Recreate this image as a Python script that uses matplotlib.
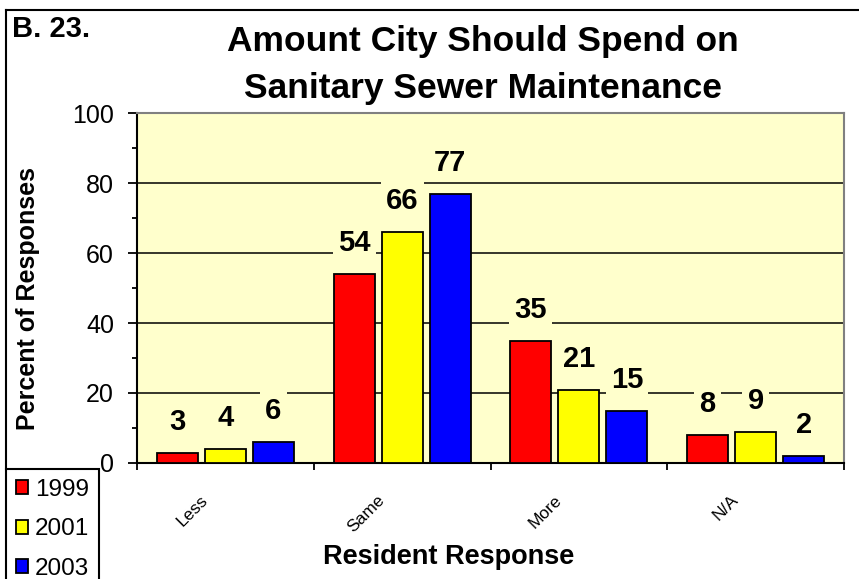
import matplotlib
matplotlib.use("Agg")
import matplotlib.pyplot as plt
import matplotlib.transforms as mtransforms
from matplotlib.lines import Line2D
import numpy as np

plt.rcParams["font.family"] = ["Liberation Sans", "DejaVu Sans"]

categories = ["Less", "Same", "More", "N/A"]
years = ["1999", "2001", "2003"]
values_1999 = [3, 54, 35, 8]
values_2001 = [4, 66, 21, 9]
values_2003 = [6, 77, 15, 2]
colors = ["#FF0000", "#FFFF00", "#0000FF"]
bg = "#FFFFCC"

W, H = 859, 579
fig = plt.figure(figsize=(W / 100, H / 100), dpi=100)

# plot area in pixel coords
left, right, top, bottom = 137, 844, 113, 463
ax = fig.add_axes([left / W, 1 - bottom / H, (right - left) / W, (bottom - top) / H])
ax.set_facecolor(bg)

x = np.arange(len(categories))
width = 0.232
step = 0.272
series = [values_1999, values_2001, values_2003]
bars = []
for i, (vals, col, yr) in enumerate(zip(series, colors, years)):
    b = ax.bar(x + (i - 1) * step, vals, width, color=col, edgecolor="black",
               linewidth=1.3, label=yr, zorder=3)
    bars.append(b)
    for xi, v in zip(x + (i - 1) * step, vals):
        ax.annotate(str(v), (xi, v), xytext=(0, 22.3), textcoords="offset points",
                    ha="center", va="center", fontsize=21, fontweight="bold",
                    zorder=4,
                    bbox=dict(boxstyle="square,pad=0.18", facecolor=bg,
                              edgecolor="none"))

ax.set_xlim(-0.5, len(categories) - 0.5)
ax.set_ylim(0, 100)

# y axis
ax.set_yticks(np.arange(0, 101, 20))
ax.set_yticks(np.arange(10, 100, 20), minor=True)
ax.tick_params(axis="y", which="major", direction="out", length=6.5, width=1.3,
               labelsize=18, pad=10)
ax.tick_params(axis="y", which="minor", direction="out", length=3.5, width=1.3)
ax.yaxis.grid(True, which="major", color="black", linewidth=1.1)
ax.set_axisbelow(True)

# x axis: tick marks at category boundaries, labels at centers
ax.set_xticks(np.arange(-0.5, len(categories), 1.0))
ax.set_xticklabels([])
ax.set_xticks(x, minor=True)
ax.set_xticklabels(categories, minor=True, rotation=45, ha="right", va="top",
                   rotation_mode="anchor", fontsize=12.5)
ax.tick_params(axis="x", which="major", direction="out", length=5, width=1.3)
ax.tick_params(axis="x", which="minor", length=0, pad=21)
offset = mtransforms.ScaledTranslation(-25 / 100, 0, fig.dpi_scale_trans)
for lab in ax.get_xticklabels(minor=True):
    lab.set_transform(lab.get_transform() + offset)

for s in ["top", "right"]:
    ax.spines[s].set_color("#808080")
    ax.spines[s].set_linewidth(1.5)
for s in ["left", "bottom"]:
    ax.spines[s].set_color("black")
    ax.spines[s].set_linewidth(1.5)

# texts
fig.text(483 / W, 1 - 65 / H, "Amount City Should Spend on\nSanitary Sewer Maintenance",
         ha="center", va="center", fontsize=25.5, fontweight="bold", linespacing=1.55)
fig.text(12 / W, 1 - 29 / H, "B. 23.", ha="left", va="center", fontsize=21,
         fontweight="bold")
fig.text(28 / W, 1 - 299 / H, "Percent of Responses", rotation=90, ha="center",
         va="center", fontsize=18, fontweight="bold")
fig.text(449 / W, 1 - 557 / H, "Resident Response", ha="center", va="center",
         fontsize=19.5, fontweight="bold")

# outer border (top and left)
fig.add_artist(Line2D([6 / W, 6 / W], [1 - 469 / H, 1 - 10 / H], color="black",
                      linewidth=1.5, transform=fig.transFigure))
fig.add_artist(Line2D([6 / W, 1.0], [1 - 10 / H, 1 - 10 / H], color="black",
                      linewidth=1.5, transform=fig.transFigure))

leg = fig.legend(handles=bars, labels=years, loc="upper left",
                 bbox_to_anchor=(6 / W, 1 - 469 / H), bbox_transform=fig.transFigure,
                 fontsize=17.5, frameon=True, fancybox=False, edgecolor="black",
                 framealpha=1, borderaxespad=0, borderpad=0.4, labelspacing=0.72,
                 handlelength=0.5, handleheight=0.5, handletextpad=0.3)
leg.get_frame().set_linewidth(1.5)

fig.savefig("out.png", dpi=100)
